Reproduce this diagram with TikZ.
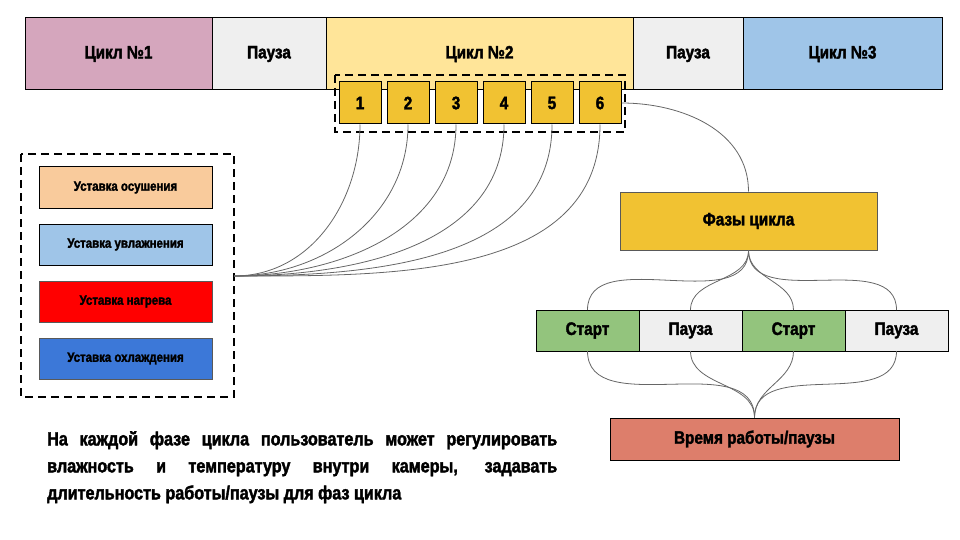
\documentclass[tikz,border=0pt]{standalone}
\usepackage{fontspec}
\setmainfont{Liberation Sans}[FakeStretch=0.85, BoldFeatures={FakeBold=2}]
\usetikzlibrary{positioning}
\definecolor{cycpink}{HTML}{D5A6BD}
\definecolor{pausegray}{HTML}{EFEFEF}
\definecolor{cycyellow}{HTML}{FFE599}
\definecolor{cycblue}{HTML}{9FC5E8}
\definecolor{phaseyellow}{HTML}{F1C232}
\definecolor{dryorange}{HTML}{F9CB9C}
\definecolor{heatred}{HTML}{FF0000}
\definecolor{coolblue}{HTML}{3C78D8}
\definecolor{startgreen}{HTML}{93C47D}
\definecolor{timered}{HTML}{DD7E6B}
\definecolor{linegray}{HTML}{666666}
\definecolor{edgegray}{HTML}{595959}

\begin{document}
\begin{tikzpicture}[x=1pt, y=-1pt, font=\bfseries\fontsize{18}{20}\selectfont, node distance=0pt,
  seg/.style={draw, line width=1pt, minimum height=72pt, inner sep=0pt, outer sep=0pt},
  num/.style={draw, fill=phaseyellow, line width=1pt, minimum size=42pt, inner sep=0pt},
  setbox/.style={draw, line width=1pt, minimum width=173pt, minimum height=41pt, inner sep=0pt, font=\bfseries\fontsize{13.5}{15}\selectfont},
  phase/.style={draw, line width=1pt, minimum width=103pt, minimum height=41pt, inner sep=0pt, outer sep=0pt},
  frame/.style={draw, dash pattern=on 8pt off 5pt, line width=2pt},
  link/.style={draw=linegray, line width=0.8pt}]
\useasboundingbox (0,0) rectangle (960,540);
% cycles bar
\node[seg, fill=cycpink, minimum width=187pt, anchor=north west] (c1) at (25,18) {Цикл №1};
\node[seg, fill=pausegray, minimum width=114pt, right=of c1] (p1) {Пауза};
\node[seg, fill=cycyellow, minimum width=307pt, right=of p1] (c2) {Цикл №2};
\node[seg, fill=pausegray, minimum width=110pt, right=of c2] (p2) {Пауза};
\node[seg, fill=cycblue, minimum width=199pt, right=of p2] (c3) {Цикл №3};
\draw[frame] (335,75) rectangle (625,132);
\foreach \i in {1,...,6}
  \node[num] (n\i) at ({312+48*\i},103) {\i};
% setpoints
\draw[frame] (21,154) rectangle (234,397);
\coordinate (hub) at (234,276);
\node[setbox, fill=dryorange] (s1) at (125.5,187.5) {Уставка осушения};
\node[setbox, fill=cycblue, below=15pt of s1] (s2) {Уставка увлажнения};
\node[setbox, fill=heatred, draw=edgegray, below=15pt of s2] (s3) {Уставка нагрева};
\node[setbox, fill=coolblue, draw=edgegray, below=15pt of s3] (s4) {Уставка охлаждения};
\foreach \i in {1,...,6}
  \draw[link] (n\i.south) to[out=-90, in=0] (hub);
% phases
\node[draw=edgegray, fill=phaseyellow, line width=1pt, minimum width=257pt, minimum height=58pt] (phases) at (748.5,221) {Фазы цикла};
\draw[link] (n6.east) to[out=0, in=90] (phases.north);
\node[phase, fill=startgreen] (st1) at (587.5,330.5) {Старт};
\node[phase, fill=pausegray, right=of st1] (pa1) {Пауза};
\node[phase, fill=startgreen, right=of pa1] (st2) {Старт};
\node[phase, fill=pausegray, right=of st2] (pa2) {Пауза};
\node[draw, fill=timered, line width=1pt, minimum width=289pt, minimum height=42pt] (work) at (754.5,439) {Время работы/паузы};
\foreach \n in {st1,pa1,st2,pa2} {
  \draw[link] (phases.south) to[out=-90, in=90] (\n.north);
  \draw[link] (\n.south) to[out=-90, in=90] (work.north);
}
% note
\node[anchor=north west, text width=510pt, align=justify, inner sep=0pt, font=\bfseries\fontsize{19}{27}\selectfont] (note) at (47,431) {\tolerance=10000\hyphenpenalty=10000 На каждой фазе цикла пользователь может регулировать\linebreak влажность и температуру внутри камеры, задавать\linebreak длительность работы/паузы для фаз цикла};
\end{tikzpicture}
\end{document}
